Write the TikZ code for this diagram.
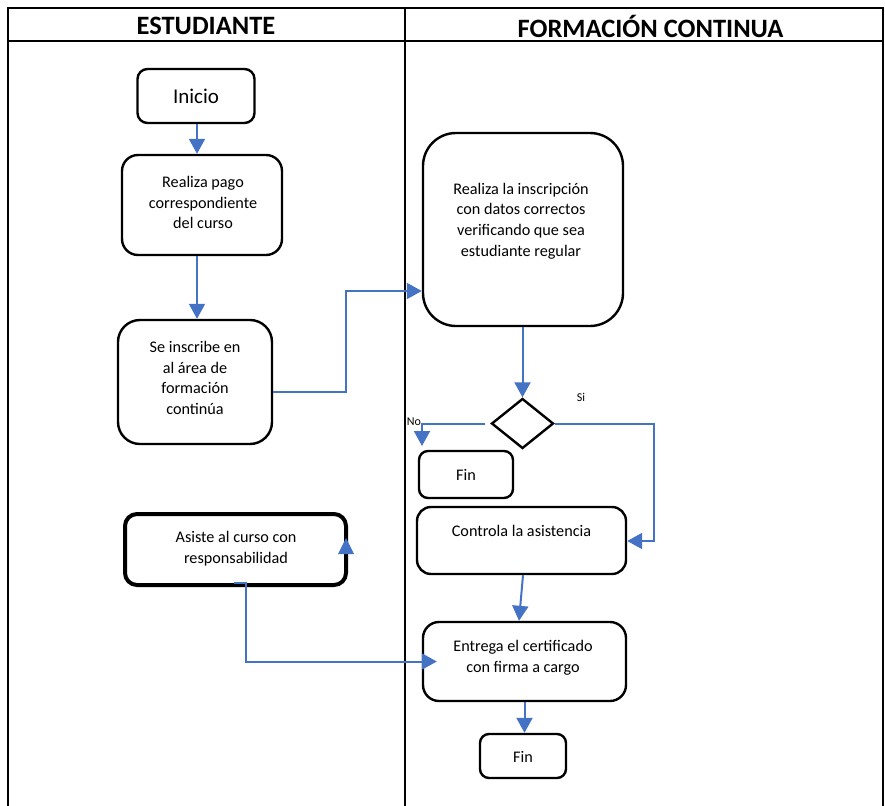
\documentclass[tikz,border=0pt]{standalone}
\usepackage{fontspec}
\setmainfont{Carlito}
\usetikzlibrary{arrows.meta,shapes.geometric,calc}
\definecolor{flowblue}{HTML}{4472C4}
\begin{document}
\begin{tikzpicture}[x=1pt,y=-1pt,
  box/.style={draw, line width=2.4pt, inner sep=0pt, fill=white},
  txt/.style={align=center, inner sep=0pt, font=\fontsize{16.2}{20.7}\selectfont},
  flow/.style={draw=flowblue, line width=2pt, -{Triangle[length=15pt,width=16pt]}},
  tag/.style={inner sep=0pt, font=\fontsize{12}{14}\selectfont},
  head/.style={inner sep=0pt, font=\bfseries\fontsize{26.5}{30}\selectfont}]
\useasboundingbox (0,0) rectangle (885,805);

% swimlane table
\draw[line width=2pt] (8,806) -- (8,8) -- (883,8) -- (883,806);
\draw[line width=2pt] (8,41) -- (883,41);
\draw[line width=2pt] (405,8) -- (405,806);
\node[head] (h1) at (206,26) {ESTUDIANTE};
\node[head] (h2) at (650.5,26) {FORMACIÓN CONTINUA};

% student lane
\node[box, rounded corners=10pt, minimum width=117pt, minimum height=54pt] (ini) at (196,96) {};
\node[txt, font=\fontsize{21}{24}\selectfont] (ini-t) at (196,96) {Inicio};

\node[box, rounded corners=16pt, minimum width=160pt, minimum height=100pt] (pago) at (202,205) {};
\node[txt] (pago-t) at (203,202.5) {Realiza pago\\correspondiente\\del curso};

\node[box, rounded corners=22pt, minimum width=154pt, minimum height=124pt] (sei) at (195,382) {};
\node[txt] (sei-t) at (195,378) {Se inscribe en\\al área de\\formación\\continúa};

\node[box, line width=4pt, rounded corners=12pt, minimum width=221pt, minimum height=71pt] (asi) at (235.5,549.5) {};
\node[txt] (asi-t) at (236,549) {Asiste al curso con\\responsabilidad};

% continuing education lane
\node[box, rounded corners=33pt, minimum width=200pt, minimum height=193pt] (insc) at (523,229.5) {};
\node[txt] (insc-t) at (521,221) {Realiza la inscripción\\con datos correctos\\verificando que sea\\estudiante regular};

\node[box, diamond, minimum width=62pt, minimum height=50pt] (dia) at (522.5,423.5) {};

\node[box, rounded corners=9pt, minimum width=94pt, minimum height=47pt] (finA) at (466,474.5) {};
\node[txt] (finA-t) at (466,475) {Fin};

\node[box, rounded corners=14pt, minimum width=209pt, minimum height=67pt] (ctrl) at (521.5,540.5) {};
\node[txt] (ctrl-t) at (521.5,531) {Controla la asistencia};

\node[box, rounded corners=16pt, minimum width=203pt, minimum height=79pt] (ent) at (524.5,661.5) {};
\node[txt] (ent-t) at (523,657.5) {Entrega el certificado\\con firma a cargo};

\node[box, rounded corners=9pt, minimum width=86pt, minimum height=44pt] (finB) at (523,756) {};
\node[txt] (finB-t) at (523,757) {Fin};

\node[tag] (no) at (414,422) {No};
\node[tag] (si) at (581,397) {Si};

% connectors
\draw[flow] ([xshift=1pt]ini.south) -- ([xshift=1pt]ini.south |- pago.north);
\draw[flow] ([xshift=1pt]ini.south |- pago.south) -- ([xshift=1pt]ini.south |- sei.north);
\draw[flow] (sei.east |- 0,392) -- (346,392) |- (insc.west |- 0,291);
\draw[flow] (dia.north |- insc.south) -- (dia.north);
\coordinate (noend) at (422,446);
\draw[flow] ([xshift=-5pt]dia.west) -| (noend);
\draw[flow] (dia.east) -- (654,423.5) |- (ctrl.east |- 0,541);
\draw[flow] ([xshift=1.5pt]ctrl.south) -- ([xshift=-5.5pt]ent.north);
\draw[flow] (ent.south) -- (ent.south |- finB.north);
\draw[flow] ([xshift=-1.5pt,yshift=4.5pt]asi.south) -- ([yshift=4.5pt]asi.south -| 246,0) |- ([xshift=15pt]ent.west);
\fill[flowblue] (346,538) -- (354,554) -- (338,554) -- cycle;
\end{tikzpicture}
\end{document}
